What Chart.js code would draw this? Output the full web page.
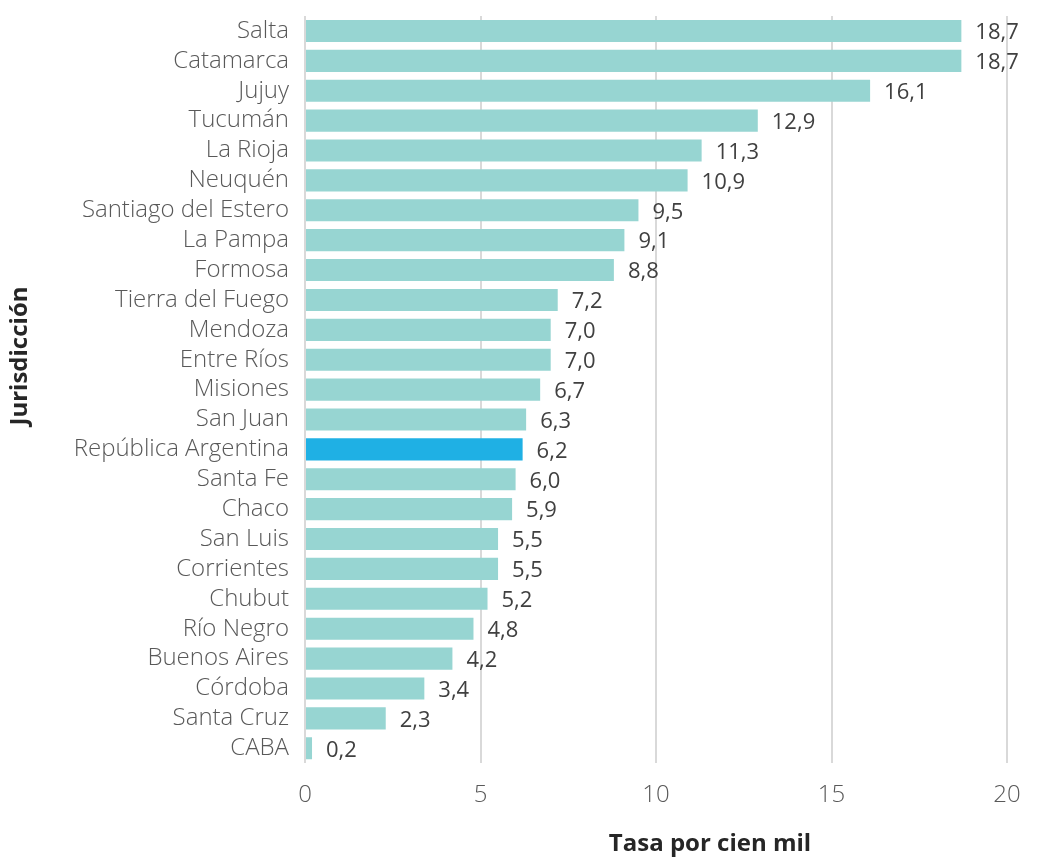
<!DOCTYPE html>
<html>
<head>
<meta charset="utf-8">
<script src="https://cdn.jsdelivr.net/npm/chart.js@4/dist/chart.umd.min.js"></script>
<style>
	html, body { margin: 0; padding: 0; background: #fff; }
	#wrap { width: 1058px; height: 857px; }
</style>
</head>
<body>
<div id="wrap"><canvas id="tasaChart" width="1058" height="857"></canvas></div>
<script>
// datos
const jurisdicciones = ["Salta", "Catamarca", "Jujuy", "Tucumán", "La Rioja", "Neuquén", "Santiago del Estero", "La Pampa", "Formosa", "Tierra del Fuego", "Mendoza", "Entre Ríos", "Misiones", "San Juan", "República Argentina", "Santa Fe", "Chaco", "San Luis", "Corrientes", "Chubut", "Río Negro", "Buenos Aires", "Córdoba", "Santa Cruz", "CABA"];
const tasas = [18.7, 18.7, 16.1, 12.9, 11.3, 10.9, 9.5, 9.1, 8.8, 7.2, 7.0, 7.0, 6.7, 6.3, 6.2, 6.0, 5.9, 5.5, 5.5, 5.2, 4.8, 4.2, 3.4, 2.3, 0.2];
const ejeX = [0, 5, 10, 15, 20];
const destacado = "República Argentina";

const colorBarra = '#97d5d2';
const colorDestacado = '#1fb0e4';
const fuente = "'Open Sans', 'Noto Sans', sans-serif";

// etiquetas de valor y titulos de ejes
const etiquetasPlugin = {
	id: 'etiquetas',
	afterDatasetsDraw(chart) {
		const ctx = chart.ctx;
		const meta = chart.getDatasetMeta(0);
		ctx.save();
		ctx.font = "400 22px " + fuente;
		ctx.fillStyle = '#404040';
		ctx.textAlign = 'left';
		ctx.textBaseline = 'middle';
		meta.data.forEach((bar, i) => {
			ctx.fillText(tasas[i].toFixed(1).replace('.', ','), bar.x + 14, bar.y + 2);
		});
		const area = chart.chartArea;
		ctx.font = "700 24px " + fuente;
		ctx.fillStyle = '#262626';
		ctx.textAlign = 'center';
		ctx.fillText("Tasa por cien mil", (area.left + area.right) / 2 + 54, 844);
		ctx.translate(20, 356);
		ctx.rotate(-Math.PI / 2);
		ctx.fillText("Jurisdicción", 0, 0);
		ctx.restore();
	}
};

const ctx = document.getElementById('tasaChart').getContext('2d');
const tasaChart = new Chart(ctx, {
	type: 'bar',
	data: {
		labels: jurisdicciones,
		datasets: [{
			data: tasas,
			backgroundColor: jurisdicciones.map(j => j === destacado ? colorDestacado : colorBarra),
			categoryPercentage: 1,
			barPercentage: 0.74,
			borderWidth: 0
		}]
	},
	options: {
		indexAxis: 'y',
		responsive: false,
		animation: false,
		layout: {
			padding: { top: 16, right: 51, bottom: 29, left: 0 }
		},
		plugins: {
			legend: { display: false },
			tooltip: { enabled: false }
		},
		scales: {
			x: {
				min: 0,
				max: 20,
				afterBuildTicks: (scale) => { scale.ticks = ejeX.map(v => ({ value: v })); },
				grid: { color: '#d9d9d9', lineWidth: 2, drawTicks: false },
				border: { display: false },
				ticks: {
					color: '#595959',
					padding: 18,
					font: { family: fuente, size: 24, weight: 300 }
				}
			},
			y: {
				afterFit: (scale) => {
					scale.width = 305;
					scale.paddingTop = 0;
					scale.paddingBottom = 0;
				},
				grid: { display: false, drawTicks: false },
				border: { display: false },
				ticks: {
					color: '#595959',
					padding: 16,
					autoSkip: false,
					font: { family: fuente, size: 24, weight: 300 }
				}
			}
		}
	},
	plugins: [etiquetasPlugin]
});
</script>
</body>
</html>
